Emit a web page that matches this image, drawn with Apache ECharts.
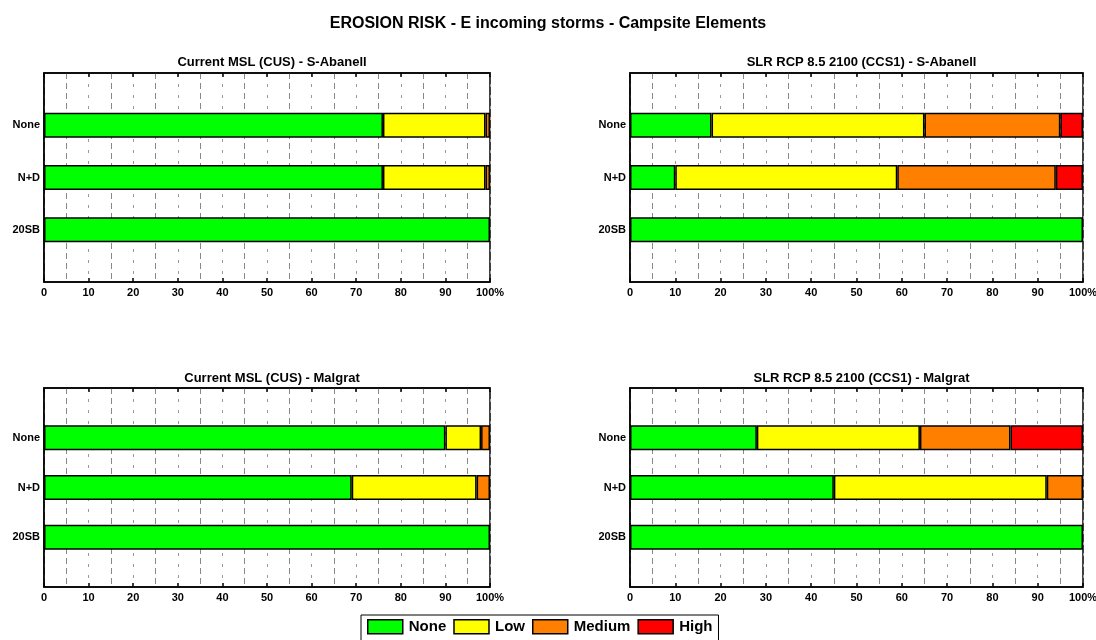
<!DOCTYPE html>
<html>
<head>
<meta charset="utf-8">
<script src="https://cdn.jsdelivr.net/npm/echarts@6/dist/echarts.min.js"></script>
<style>
html,body{margin:0;padding:0;background:#fff;}
#chart{width:1096px;height:640px;}
</style>
</head>
<body>
<div id="chart"></div>
<script>
// ---- data ----
const mainTitle = 'EROSION RISK - E incoming storms - Campsite Elements';
const panelTitles = [
  'Current MSL (CUS) - S-Abanell',
  'SLR RCP 8.5 2100 (CCS1) - S-Abanell',
  'Current MSL (CUS) - Malgrat',
  'SLR RCP 8.5 2100 (CCS1) - Malgrat'
];
const categories = ['None', 'N+D', '20SB'];
const riskLevels = ['None', 'Low', 'Medium', 'High'];
const riskColors = ['#00FF00', '#FFFF00', '#FF8000', '#FF0000'];
const xTicks = [0, 10, 20, 30, 40, 50, 60, 70, 80, 90, 100];

// Current MSL - S-Abanell (per category: None, N+D, 20SB)
const curAbanellNone   = [76, 76, 100];
const curAbanellLow    = [23, 23, 0];
const curAbanellMedium = [1, 1, 0];
const curAbanellHigh   = [0, 0, 0];
// SLR RCP 8.5 2100 - S-Abanell
const slrAbanellNone   = [18, 10, 100];
const slrAbanellLow    = [47, 49, 0];
const slrAbanellMedium = [30, 35, 0];
const slrAbanellHigh   = [5, 6, 0];
// Current MSL - Malgrat
const curMalgratNone   = [90, 69, 100];
const curMalgratLow    = [8, 28, 0];
const curMalgratMedium = [2, 3, 0];
const curMalgratHigh   = [0, 0, 0];
// SLR RCP 8.5 2100 - Malgrat
const slrMalgratNone   = [28, 45, 100];
const slrMalgratLow    = [36, 47, 0];
const slrMalgratMedium = [20, 8, 0];
const slrMalgratHigh   = [16, 0, 0];

const panelData = [
  [curAbanellNone, curAbanellLow, curAbanellMedium, curAbanellHigh],
  [slrAbanellNone, slrAbanellLow, slrAbanellMedium, slrAbanellHigh],
  [curMalgratNone, curMalgratLow, curMalgratMedium, curMalgratHigh],
  [slrMalgratNone, slrMalgratLow, slrMalgratMedium, slrMalgratHigh]
];

// ---- layout ----
const grids = [
  {left: 44, top: 73, width: 446, height: 209},
  {left: 630, top: 73, width: 453, height: 209},
  {left: 44, top: 388, width: 446, height: 199},
  {left: 630, top: 388, width: 453, height: 199}
];
const tickFont = 'Liberation Sans Narrow, Liberation Sans, Arial, sans-serif';
const textFont = 'Liberation Sans, Arial, sans-serif';

const yCats = [''].concat(categories).concat(['']);

const option = {
  backgroundColor: '#fff',
  animation: false,
  title: [{
    text: mainTitle, left: 'center', top: 11,
    textStyle: {fontFamily: textFont, fontSize: 16, fontWeight: 'bold', color: '#000'}
  }].concat(panelTitles.map((t, i) => ({
    text: t,
    left: grids[i].left + grids[i].width / 2,
    textAlign: 'center',
    top: i < 2 ? 51 : 367,
    textStyle: {fontFamily: textFont, fontSize: 13, fontWeight: 'bold', color: '#000'}
  }))),
  legend: {
    data: riskLevels,
    left: 361,
    top: 615,
    itemWidth: 35,
    itemHeight: 14,
    itemGap: 7,
    padding: [4, 6, 8, 6],
    borderColor: '#000',
    borderWidth: 1,
    icon: 'rect',
    itemStyle: {borderColor: '#000', borderWidth: 1.5},
    textStyle: {fontFamily: textFont, fontSize: 15, fontWeight: 'bold', color: '#000', padding: [0, 0, 0, 1]}
  },
  grid: grids.map(g => Object.assign({show: true, borderColor: '#000', borderWidth: 1.5, backgroundColor: '#fff', outerBoundsMode: 'none', containLabel: false}, g)),
  xAxis: [],
  yAxis: [],
  series: []
};

grids.forEach((g, i) => {
  option.xAxis.push({
    type: 'value', gridIndex: i, min: 0, max: 100, interval: 10, position: 'bottom',
    axisLine: {show: true, lineStyle: {color: '#000', width: 1.5}},
    axisTick: {show: true, inside: true, length: 4, lineStyle: {color: '#000', width: 1.5}},
    minorTick: {show: false, splitNumber: 2},
    minorSplitLine: {show: true, lineStyle: {color: '#888', width: 1, type: [6, 4]}},
    splitLine: {show: true, lineStyle: {color: '#999', width: 1, type: [3, 8]}},
    axisLabel: {
      fontFamily: tickFont, fontSize: 11, fontWeight: 'bold', color: '#000', margin: 5,
      formatter: v => (v === xTicks[xTicks.length - 1] ? v + '%' : String(v))
    }
  });
  option.xAxis.push({
    type: 'value', gridIndex: i, min: 0, max: 100, interval: 10, position: 'top',
    axisLine: {show: true, lineStyle: {color: '#000', width: 1.5}},
    axisTick: {show: true, inside: true, length: 4, lineStyle: {color: '#000', width: 1.5}},
    splitLine: {show: false},
    axisLabel: {show: false}
  });
  option.yAxis.push({
    type: 'category', gridIndex: i, data: yCats, inverse: true, boundaryGap: false,
    axisLine: {show: true, lineStyle: {color: '#000', width: 1.5}},
    axisTick: {show: false},
    splitLine: {show: false},
    axisLabel: {fontFamily: tickFont, fontSize: 11, fontWeight: 'bold', color: '#000', margin: 4}
  });
  riskLevels.forEach((lvl, k) => {
    const vals = panelData[i][k];
    option.series.push({
      name: lvl,
      type: 'bar',
      xAxisIndex: i * 2,
      yAxisIndex: i,
      stack: 'panel' + i,
      barWidth: 25,
      itemStyle: {color: riskColors[k], borderColor: '#000', borderWidth: 1.5},
      data: [ '-' ].concat(vals.map(v => (v === 0 ? '-' : v))).concat(['-'])
    });
  });
});

const chart = echarts.init(document.getElementById('chart'), null, {renderer: 'canvas'});
chart.setOption(option);
</script>
</body>
</html>
